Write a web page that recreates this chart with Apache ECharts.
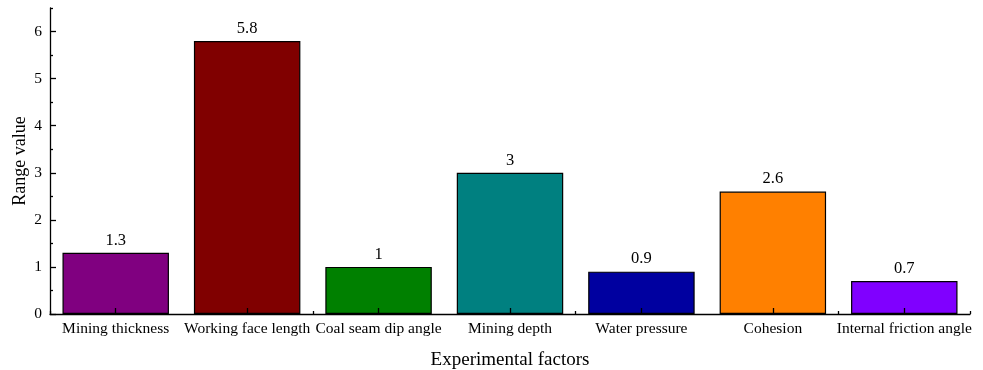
<!DOCTYPE html>
<html><head><meta charset="utf-8">
<script src="https://cdn.jsdelivr.net/npm/echarts@6/dist/echarts.min.js"></script>
<style>html,body{margin:0;padding:0;background:#fff}#c{width:983px;height:370px}</style>
</head><body><div id="c"></div>
<script>
const categories = ['Mining thickness','Working face length','Coal seam dip angle','Mining depth','Water pressure','Cohesion','Internal friction angle'];
const rangeValues = [1.3, 5.8, 1, 3, 0.9, 2.6, 0.7];
const barColors = ['#800080','#800000','#008000','#008080','#0000A0','#FF8000','#8000FF'];
const yMajorTicks = [0,1,2,3,4,5,6];
const yMinorTicks = [0.5,1.5,2.5,3.5,4.5,5.5,6.5];
const FONT = '"Liberation Serif","Times New Roman",serif';

const chart = echarts.init(document.getElementById('c'));
chart.setOption({
  animation:false,
  backgroundColor:'#fff',
  grid:{left:50,right:13,top:8,bottom:56,containLabel:false,outerBoundsMode:'none'},
  xAxis:[{
    type:'category', data:categories, position:'bottom', z:10,
    name:'Experimental factors', nameLocation:'middle', nameGap:37, nameMoveOverlap:false,
    nameTextStyle:{fontFamily:FONT,fontSize:19,color:'#000'},
    axisLine:{show:true,lineStyle:{color:'#000',width:1.3}},
    axisTick:{show:true,inside:true,alignWithLabel:true,length:6,lineStyle:{color:'#000',width:1.3}},
    axisLabel:{fontFamily:FONT,fontSize:15.5,color:'#000',margin:7,interval:0},
    splitLine:{show:false}
  },{
    type:'category', data:categories, position:'bottom', z:10,
    axisLine:{show:false},
    axisTick:{show:true,inside:true,length:3,lineStyle:{color:'#000',width:1.3}},
    axisLabel:{show:false}, splitLine:{show:false}
  }],
  yAxis:[{
    type:'value', min:0, max:6.5, position:'left', z:10,
    name:'Range value', nameLocation:'middle', nameGap:21, nameMoveOverlap:false,
    nameTextStyle:{fontFamily:FONT,fontSize:18,color:'#000'},
    axisLine:{show:true,lineStyle:{color:'#000',width:1.3}},
    axisTick:{show:true,inside:true,length:6,customValues:yMajorTicks,lineStyle:{color:'#000',width:1.3}},
    axisLabel:{fontFamily:FONT,fontSize:15.5,color:'#000',margin:8,customValues:yMajorTicks},
    splitLine:{show:false}
  },{
    type:'value', min:0, max:6.5, position:'left', offset:0, z:10,
    axisLine:{show:false},
    axisTick:{show:true,inside:true,length:3,customValues:yMinorTicks,lineStyle:{color:'#000',width:1.3}},
    axisLabel:{show:false}, splitLine:{show:false}
  }],
  series:[{
    type:'bar', xAxisIndex:0, yAxisIndex:0,
    barCategoryGap:'19%',
    data: rangeValues.map((v,i)=>({value:v,itemStyle:{color:barColors[i]}})),
    itemStyle:{borderColor:'#000',borderWidth:1.2},
    label:{show:true,position:'top',distance:4,fontFamily:FONT,fontSize:16.5,color:'#000'}
  }]
});
</script></body></html>
